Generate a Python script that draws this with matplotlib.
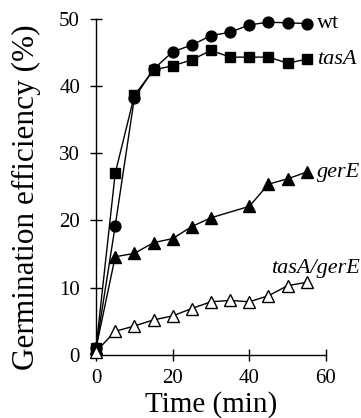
import matplotlib.pyplot as plt

# data (time in min, germination efficiency in %)
t_all = [0, 5, 10, 15, 20, 25, 30, 35, 40, 45, 50, 55]
wt = [1.0, 19.2, 38.2, 42.5, 45.1, 46.1, 47.5, 48.0, 49.1, 49.5, 49.4, 49.3]
tasA = [1.0, 27.0, 38.6, 42.4, 43.0, 43.9, 45.3, 44.3, 44.3, 44.3, 43.4, 44.0]
t_gerE = [0, 5, 10, 15, 20, 25, 30, 40, 45, 50, 55]
gerE = [1.0, 14.6, 15.1, 16.7, 17.3, 19.1, 20.4, 22.1, 25.4, 26.2, 27.2]
tasA_gerE = [0.5, 3.5, 4.3, 5.2, 5.8, 6.9, 7.9, 8.1, 7.9, 8.8, 10.3, 10.8]

plt.rcParams['font.family'] = ['Liberation Serif', 'DejaVu Serif']

fig = plt.figure(figsize=(3.61, 4.18), dpi=100)
ax = fig.add_axes([0.266, 0.151, 0.637, 0.804])

kw = dict(color='black', lw=1.0, clip_on=False, zorder=3)
ax.plot(t_all, wt, marker='o', ms=7.8, **kw)
ax.plot(t_all, tasA, marker='s', ms=7.8, **kw)
ax.plot(t_gerE, gerE, marker='^', ms=8.5, **kw)
ax.plot(t_all, tasA_gerE, marker='^', ms=8.5, mfc='white', mec='black', mew=1.0, **kw)

# series labels next to the last points
lab = dict(textcoords='offset points', fontsize=16, annotation_clip=False)
ax.annotate('wt', (t_all[-1], wt[-1]), xytext=(7, 0), va='center', ha='left', **lab)
ax.annotate('tasA', (t_all[-1], tasA[-1]), xytext=(7, 0), va='center', ha='left',
            style='italic', **lab)
ax.annotate('gerE', (t_gerE[-1], gerE[-1]), xytext=(7, 0), va='center', ha='left',
            style='italic', **lab)
ax.annotate('tasA/gerE', (t_all[-1], tasA_gerE[-1]), xytext=(38, 3), va='bottom', ha='right',
            style='italic', **lab)

ax.set_xlim(0, 60)
ax.set_ylim(0, 50)
ax.set_xticks([0, 20, 40, 60])
ax.set_yticks([0, 10, 20, 30, 40, 50])
ax.spines['top'].set_visible(False)
ax.spines['right'].set_visible(False)
for s in ['left', 'bottom']:
    ax.spines[s].set_linewidth(1.0)
ax.tick_params(direction='inout', length=9, width=1.0, labelsize=15)
ax.tick_params(axis='x', pad=6)
ax.tick_params(axis='y', pad=7)

ax.set_xlabel('Time (min)', fontsize=21, labelpad=2)
ax.set_ylabel('Germination efficiency (%)', fontsize=22.5)
ax.yaxis.set_label_coords(-0.24, 0.47)

plt.savefig('out.png', dpi=100)
